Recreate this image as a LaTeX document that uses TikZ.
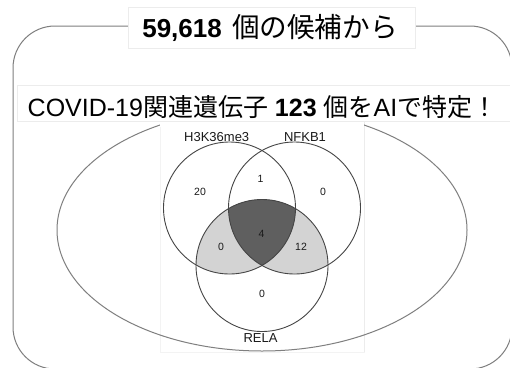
\documentclass[tikz,border=0pt]{standalone}
\usepackage{fontspec}
\setmainfont{Liberation Sans}
\newfontfamily\jp{Noto Sans CJK JP}
\definecolor{frame}{HTML}{7F7F7F}
\definecolor{faint}{HTML}{ECECEC}
\definecolor{fainter}{HTML}{F3F3F3}
\definecolor{venn}{HTML}{454545}
\definecolor{lightfill}{HTML}{D3D3D3}
\definecolor{darkfill}{HTML}{5F5F5F}
\definecolor{txt}{HTML}{1A1A1A}
\tikzset{
  bigtext/.style={font=\fontsize{25}{30}\selectfont, text=black, inner sep=0pt, anchor=base},
  setlabel/.style={font=\fontsize{13}{15}\selectfont, text=txt, inner sep=0pt},
  count/.style={font=\fontsize{10.5}{12}\selectfont, text=txt, inner sep=0pt},
  whitebox/.style={fill=white, draw=faint, line width=0.6pt},
  setcircle/.style={draw=venn, line width=0.9pt}
}
\begin{document}
\begin{tikzpicture}[x=1pt,y=-1pt]
\useasboundingbox (0,0) rectangle (510,367);
\clip (0,0) rectangle (510,367);
\fill[white] (0,0) rectangle (510,367);
% outer rounded frame
\draw[frame, line width=1pt, rounded corners=42] (13,26) rectangle (512,369);
% venn image background
\path[fill=white, draw=fainter, line width=0.5pt] (160,118) rectangle (364,352);
\draw[faint, line width=0.7pt] (364,118) -- (364,352);
% big ellipse
\draw[frame, line width=1pt] (262,230) ellipse [x radius=205, y radius=121];
\fill[white] (160.3,95) rectangle (363.7,127);
% second line box
\path[whitebox] (17,85) rectangle (520,121);
\node[bigtext] (line2) at (262.5,116.5) {COVID-19{\jp 関連遺伝子} \textbf{123} {\jp 個を}AI{\jp で特定！}};
% title box
\path[whitebox] (128,7) rectangle (415,48);
\node[bigtext, font=\fontsize{26}{30}\selectfont] (title) at (270,37) {\textbf{59,618}\hspace{3pt} {\jp\fontsize{27.6}{30}\selectfont 個の候補から}};
% venn diagram
\coordinate (H) at (229.5,208);
\coordinate (N) at (294.5,208);
\coordinate (R) at (262,265.5);
\begin{scope}
  \clip (R) circle [radius=66];
  \fill[lightfill] (H) circle [radius=66];
  \fill[lightfill] (N) circle [radius=66];
\end{scope}
\begin{scope}
  \clip (R) circle [radius=66];
  \clip (H) circle [radius=66];
  \fill[darkfill] (N) circle [radius=66];
\end{scope}
\draw[setcircle] (H) circle [radius=66];
\draw[setcircle] (N) circle [radius=66];
\draw[setcircle] (R) circle [radius=66];
\node[setlabel] (lH) at (216.7,137.5) {H3K36me3};
\node[setlabel] (lN) at (305,137.5) {NFKB1};
\node[setlabel] (lR) at (260.5,338) {RELA};
\node[count] (cH) at (200,191.5) {20};
\node[count] (cHN) at (260.5,179) {1};
\node[count] (cN) at (323,191.5) {0};
\node[count] (cHNR) at (261.5,234) {4};
\node[count] (cHR) at (221,247) {0};
\node[count] (cNR) at (301,247) {12};
\node[count] (cR) at (262,294) {0};
\end{tikzpicture}
\end{document}
